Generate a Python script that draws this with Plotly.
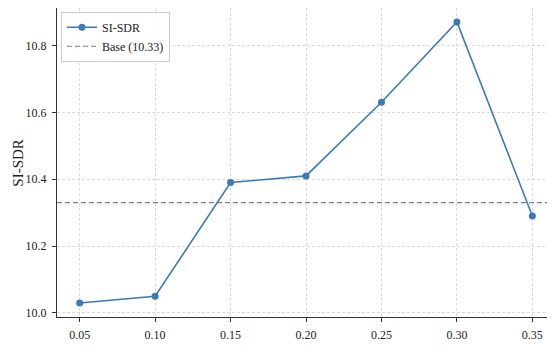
import plotly.graph_objects as go

alpha = [0.05, 0.10, 0.15, 0.20, 0.25, 0.30, 0.35]
si_sdr = [10.03, 10.05, 10.39, 10.41, 10.63, 10.87, 10.29]
base_value = 10.33
x_ticks = [0.05, 0.10, 0.15, 0.20, 0.25, 0.30, 0.35]
y_ticks = [10.0, 10.2, 10.4, 10.6, 10.8]

FONT = "Liberation Serif, Times New Roman, serif"
BLUE = "#3d79b6"

fig = go.Figure()
fig.add_trace(go.Scatter(
    x=alpha, y=si_sdr, mode="lines+markers", name="SI-SDR",
    line=dict(color=BLUE, width=1.6),
    marker=dict(color=BLUE, size=7),
))
fig.add_hline(y=base_value, line=dict(color="#7f7f7f", width=1.1, dash="5px,3px"),
              showlegend=True, name=f"Base ({base_value:.2f})")

axis_common = dict(
    showline=True, linecolor="#333333", linewidth=1, mirror=True,
    ticks="outside", ticklen=4, tickcolor="#333333",
    showgrid=True, gridcolor="rgba(190,190,190,0.55)", griddash="3px,2px", gridwidth=0.8,
    zeroline=False, automargin=False, ticklabelstandoff=3,
    tickfont=dict(family=FONT, size=12, color="#222"),
)

# page body has an 8px margin, so the figure is sized 8px smaller each way
fig.update_layout(
    width=547, height=341,
    margin=dict(l=49, r=0, t=0, b=32),
    paper_bgcolor="white", plot_bgcolor="white",
    font=dict(family=FONT, color="#222"),
    xaxis=dict(range=[0.035, 0.365], tickvals=x_ticks,
               ticktext=[f"{v:.2f}" for v in x_ticks], **axis_common),
    yaxis=dict(range=[9.988, 10.912], tickvals=y_ticks,
               ticktext=[f"{v:.1f}" for v in y_ticks], **axis_common),
    legend=dict(x=0.008, y=0.988, xanchor="left", yanchor="top",
                bgcolor="rgba(255,255,255,0.85)", bordercolor="#cccccc", borderwidth=1,
                font=dict(family=FONT, size=12, color="#222"),
                tracegroupgap=0, itemwidth=30),
    showlegend=True,
    annotations=[
        dict(text="SI-SDR", xref="paper", yref="paper", x=-0.08, y=0.5,
             textangle=-90, showarrow=False, xanchor="center", yanchor="middle",
             font=dict(family=FONT, size=15, color="#222")),
        dict(text="α", xref="paper", yref="paper", x=0.49, y=-0.085,
             showarrow=False, xanchor="center", yanchor="top",
             font=dict(family=FONT, size=15, color="#222")),
    ],
)

fig.write_html("out.html")
